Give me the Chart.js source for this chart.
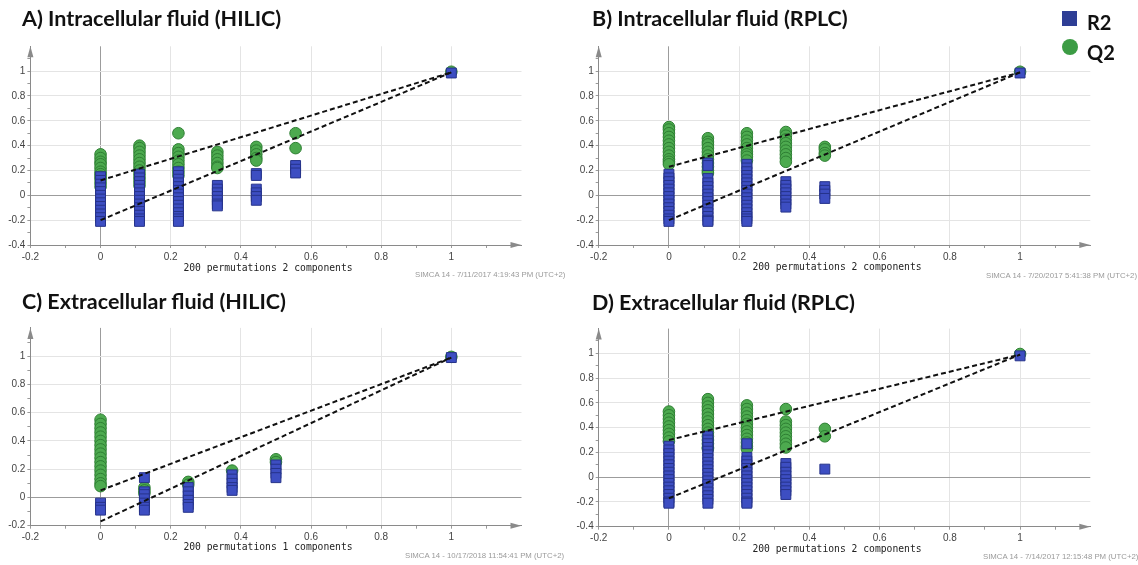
<!DOCTYPE html>
<html><head><meta charset="utf-8">
<script src="https://cdn.jsdelivr.net/npm/chart.js@4.4.1/dist/chart.umd.min.js"></script>
<style>
body{margin:0;background:#fff;width:1138px;height:565px;position:relative;overflow:hidden}
canvas{position:absolute}
.t{position:absolute;font:bold 21.5px Lato,sans-serif;color:#111;white-space:nowrap;line-height:22px}
.xt{position:absolute;font:9.7px "DejaVu Sans Mono",monospace;color:#222;white-space:nowrap;transform:translate(-50%,-50%);line-height:12px}
.fn{position:absolute;font:7.8px "Liberation Sans",sans-serif;color:#9a9a9a;white-space:nowrap;line-height:9px}
.lg{position:absolute;font:bold 20px Lato,sans-serif;color:#111;line-height:20px}
</style></head><body>
<canvas id="cA" width="560" height="280" style="left:0;top:0"></canvas>
<canvas id="cB" width="578" height="280" style="left:560px;top:0"></canvas>
<canvas id="cC" width="560" height="285" style="left:0;top:280px"></canvas>
<canvas id="cD" width="578" height="285" style="left:560px;top:280px"></canvas>

<div class="t" style="left:22px;top:7px">A) Intracellular fluid (HILIC)</div>
<div class="t" style="left:592px;top:7px">B) Intracellular fluid (RPLC)</div>
<div class="t" style="left:22px;top:290px">C) Extracellular fluid (HILIC)</div>
<div class="t" style="left:592px;top:291px">D) Extracellular fluid (RPLC)</div>

<div class="xt" style="left:268px;top:268px">200 permutations 2 components</div>
<div class="xt" style="left:837px;top:267px">200 permutations 2 components</div>
<div class="xt" style="left:268px;top:547px">200 permutations 1 components</div>
<div class="xt" style="left:837px;top:549px">200 permutations 2 components</div>

<div class="fn" style="left:415px;top:270px">SIMCA 14 - 7/11/2017 4:19:43 PM (UTC+2)</div>
<div class="fn" style="left:986px;top:271px">SIMCA 14 - 7/20/2017 5:41:38 PM (UTC+2)</div>
<div class="fn" style="left:405px;top:551px">SIMCA 14 - 10/17/2018 11:54:41 PM (UTC+2)</div>
<div class="fn" style="left:983px;top:552px">SIMCA 14 - 7/14/2017 12:15:48 PM (UTC+2)</div>

<div style="position:absolute;left:1062px;top:11px;width:15px;height:15px;background:#2E3E95"></div>
<div class="lg" style="left:1087px;top:12px">R2</div>
<div style="position:absolute;left:1062px;top:39px;width:16px;height:16px;border-radius:50%;background:#3C9C44"></div>
<div class="lg" style="left:1087px;top:42px">Q2</div>

<script>
// ---------- DATA ----------
// Tick values (major labelled, minor unlabelled marks)
const xTicks = [-0.2,-0.1,0,0.1,0.2,0.3,0.4,0.5,0.6,0.7,0.8,0.9,1,1.1];
const xLabels = [-0.2,0,0.2,0.4,0.6,0.8,1];
const yTicksWide = [-0.4,-0.3,-0.2,-0.1,0,0.1,0.2,0.3,0.4,0.5,0.6,0.7,0.8,0.9,1,1.1];
const yLabelsWide = [-0.4,-0.2,0,0.2,0.4,0.6,0.8,1];
const yTicksNarrow = [-0.2,-0.1,0,0.1,0.2,0.3,0.4,0.5,0.6,0.7,0.8,0.9,1,1.1];
const yLabelsNarrow = [-0.2,0,0.2,0.4,0.6,0.8,1];

// Panel A: Intracellular fluid (HILIC)
const corrA = [0, 0.111, 0.222, 0.333, 0.444, 0.556, 1];
const r2A = [
  [0.15,0.12,0.09,0.06,0.03,0.00,-0.03,-0.06,-0.09,-0.12,-0.15,-0.18,-0.21],
  [0.17,0.14,0.11,0.08,0.05,0.02,-0.01,-0.04,-0.07,-0.10,-0.13,-0.16,-0.19,-0.21],
  [0.19,0.16,0.13,0.10,0.07,0.04,0.01,-0.02,-0.05,-0.08,-0.11,-0.14,-0.17,-0.19,-0.21],
  [0.08,0.05,0.02,-0.01,-0.04,-0.07,-0.085],
  [0.175,0.16,0.05,0.02,-0.01,-0.04],
  [0.24,0.21,0.18],
  [0.985]
];
const q2A = [
  [0.33,0.30,0.27,0.25,0.22,0.19,0.17,0.15,0.13,0.10,0.07],
  [0.40,0.38,0.35,0.32,0.29,0.26,0.23,0.20,0.17,0.14,0.11,0.08],
  [0.50,0.37,0.34,0.31,0.28,0.25,0.22,0.19,0.16],
  [0.35,0.32,0.29,0.26,0.23,0.22],
  [0.39,0.36,0.33,0.30,0.28],
  [0.50,0.38],
  [0.995]
];
const r2LineA = [-0.20, 0.99];
const q2LineA = [0.12, 0.99];

// Panel B: Intracellular fluid (RPLC)
const corrB = [0, 0.111, 0.222, 0.333, 0.444, 1];
const r2B = [
  [0.17,0.14,0.11,0.08,0.05,0.02,-0.01,-0.04,-0.07,-0.10,-0.13,-0.16,-0.19,-0.21],
  [0.26,0.24,0.135,0.10,0.07,0.04,0.01,-0.02,-0.05,-0.08,-0.11,-0.14,-0.17,-0.20,-0.21],
  [0.25,0.22,0.19,0.16,0.13,0.10,0.07,0.04,0.01,-0.02,-0.05,-0.08,-0.11,-0.14,-0.17,-0.19,-0.21],
  [0.11,0.08,0.05,0.02,-0.01,-0.04,-0.07,-0.095],
  [0.07,0.04,0.01,-0.025],
  [0.985]
];
const q2B = [
  [0.55,0.53,0.50,0.47,0.44,0.41,0.38,0.35,0.32,0.29,0.27,0.25],
  [0.46,0.43,0.41,0.38,0.35,0.32,0.29,0.26,0.23,0.20,0.18],
  [0.50,0.47,0.44,0.41,0.38,0.35,0.33,0.31,0.28],
  [0.51,0.48,0.45,0.42,0.39,0.36,0.33,0.30,0.27],
  [0.39,0.37,0.34,0.32],
  [0.995]
];
const r2LineB = [-0.20, 0.99];
const q2LineB = [0.23, 0.99];

// Panel C: Extracellular fluid (HILIC)
const corrC = [0, 0.125, 0.25, 0.375, 0.5, 1];
const r2C = [
  [-0.04,-0.07,-0.09],
  [0.14,0.04,0.02,-0.01,-0.04,-0.07,-0.09],
  [0.07,0.04,0.01,-0.02,-0.05,-0.07],
  [0.16,0.13,0.10,0.07,0.05],
  [0.23,0.20,0.17,0.14],
  [0.99]
];
const q2C = [
  [0.55,0.52,0.49,0.46,0.43,0.40,0.37,0.34,0.31,0.28,0.25,0.22,0.19,0.16,0.13,0.10,0.08],
  [0.07,0.05,0.03],
  [0.11,0.09],
  [0.19],
  [0.27,0.25],
  [0.995]
];
const r2LineC = [-0.17, 0.99];
const q2LineC = [0.05, 0.99];

// Panel D: Extracellular fluid (RPLC)
const corrD = [0, 0.111, 0.222, 0.333, 0.444, 1];
const r2D = [
  [0.25,0.22,0.19,0.16,0.13,0.10,0.07,0.04,0.01,-0.02,-0.05,-0.08,-0.11,-0.14,-0.17,-0.20,-0.21],
  [0.33,0.30,0.27,0.24,0.21,0.18,0.15,0.12,0.09,0.06,0.03,0.00,-0.03,-0.06,-0.09,-0.12,-0.15,-0.18,-0.21],
  [0.27,0.16,0.13,0.10,0.07,0.04,0.01,-0.02,-0.05,-0.08,-0.11,-0.14,-0.17,-0.20,-0.21],
  [0.11,0.08,0.04,0.01,-0.02,-0.05,-0.08,-0.11,-0.14],
  [0.065],
  [0.98]
];
const q2D = [
  [0.53,0.50,0.47,0.44,0.41,0.38,0.35,0.32,0.29],
  [0.63,0.60,0.57,0.54,0.51,0.48,0.45,0.42,0.39,0.36,0.33,0.30,0.27,0.24,0.23],
  [0.58,0.55,0.52,0.49,0.46,0.43,0.40,0.37,0.34,0.31,0.28,0.25,0.23],
  [0.55,0.45,0.42,0.39,0.36,0.33,0.30,0.27,0.24],
  [0.39,0.33],
  [0.995]
];
const r2LineD = [-0.17, 0.99];
const q2LineD = [0.30, 0.99];

const lineX = [0, 1];

// ---------- CHART BUILDING ----------
const BLUE = '#3D4EC2', BLUE_B = '#26338A';
const GREEN = '#4DAA4F', GREEN_B = '#2E7F33';

function toPoints(xs, cols) {
  const pts = [];
  cols.forEach((col, i) => col.forEach(v => pts.push({x: xs[i], y: v})));
  return pts;
}
function linePts(vals) { return vals.map((v, i) => ({x: lineX[i], y: v})); }
function fmt(v) { return String(Math.round(v * 10) / 10); }

const arrows = {
  id: 'arrows',
  afterDraw(chart) {
    const {ctx, chartArea: a} = chart;
    ctx.save();
    ctx.fillStyle = '#8a8a8a';
    ctx.beginPath();
    ctx.moveTo(a.left, a.top);
    ctx.lineTo(a.left - 3, a.top + 11);
    ctx.lineTo(a.left + 3, a.top + 11);
    ctx.closePath(); ctx.fill();
    ctx.beginPath();
    ctx.moveTo(a.right, a.bottom);
    ctx.lineTo(a.right - 11, a.bottom - 3);
    ctx.lineTo(a.right - 11, a.bottom + 3);
    ctx.closePath(); ctx.fill();
    ctx.restore();
  }
};

function gridFn(labels, minV) {
  return c => {
    const v = c.tick.value;
    if (v === minV) return 'rgba(0,0,0,0)';
    if (v === 0) return '#9c9c9c';
    return labels.includes(v) ? '#e4e4e4' : 'rgba(0,0,0,0)';
  };
}

function makeChart(id, xs, r2, q2, r2Line, q2Line, lay) {
  const yT = lay.narrow ? yTicksNarrow : yTicksWide;
  const yL = lay.narrow ? yLabelsNarrow : yLabelsWide;
  const yMin = yT[0];
  new Chart(document.getElementById(id), {
    type: 'scatter',
    data: {
      datasets: [
        {label: 'Q2 line', data: linePts(q2Line), showLine: true, pointRadius: 0,
         borderColor: '#111', borderWidth: 2, borderDash: [5, 3], fill: false},
        {label: 'R2 line', data: linePts(r2Line), showLine: true, pointRadius: 0,
         borderColor: '#111', borderWidth: 2, borderDash: [5, 3], fill: false},
        {label: 'R2', data: toPoints(xs, r2), pointStyle: 'rect', pointRadius: 7,
         backgroundColor: BLUE, borderColor: BLUE_B, borderWidth: 1},
        {label: 'Q2', data: toPoints(xs, q2), pointStyle: 'circle', pointRadius: 5.8,
         backgroundColor: GREEN, borderColor: GREEN_B, borderWidth: 1}
      ]
    },
    options: {
      responsive: false, animation: false, devicePixelRatio: 1,
      layout: {autoPadding: false, padding: {left: 0, right: lay.right, top: lay.top, bottom: 0}},
      plugins: {legend: {display: false}, tooltip: {enabled: false}},
      scales: {
        x: {
          type: 'linear', min: -0.2, max: 1.2,
          afterBuildTicks: s => { s.ticks = xTicks.map(v => ({value: v})); },
          afterFit: s => { s.height = lay.xH; },
          ticks: {autoSkip: false, maxRotation: 0, padding: 3, color: '#444',
                  font: {family: 'Liberation Sans', size: 10},
                  callback: v => xLabels.includes(v) ? fmt(v) : ''},
          grid: {color: gridFn(xLabels, -0.2), tickColor: '#9a9a9a', tickLength: 3},
          border: {color: '#8a8a8a', width: 1}
        },
        y: {
          type: 'linear', min: yMin, max: 1.2,
          afterBuildTicks: s => { s.ticks = yT.map(v => ({value: v})); },
          afterFit: s => { s.width = lay.yW; },
          ticks: {autoSkip: false, padding: 2, color: '#444',
                  font: {family: 'Liberation Sans', size: 10},
                  callback: v => yL.includes(v) ? fmt(v) : ''},
          grid: {color: gridFn(yL, yMin), tickColor: '#9a9a9a', tickLength: 3},
          border: {color: '#8a8a8a', width: 1}
        }
      }
    },
    plugins: [arrows]
  });
}

makeChart('cA', corrA, r2A, q2A, r2LineA, q2LineA, {right: 38.5, top: 46.3, xH: 35, yW: 30.4});
makeChart('cB', corrB, r2B, q2B, r2LineB, q2LineB, {right: 47.7, top: 46.3, xH: 35, yW: 38.7});
makeChart('cC', corrC, r2C, q2C, r2LineC, q2LineC, {right: 38.5, top: 47.9, xH: 39.3, yW: 30.4, narrow: true});
makeChart('cD', corrD, r2D, q2D, r2LineD, q2LineD, {right: 47.7, top: 48.6, xH: 38.3, yW: 38.7});
</script>
</body></html>
